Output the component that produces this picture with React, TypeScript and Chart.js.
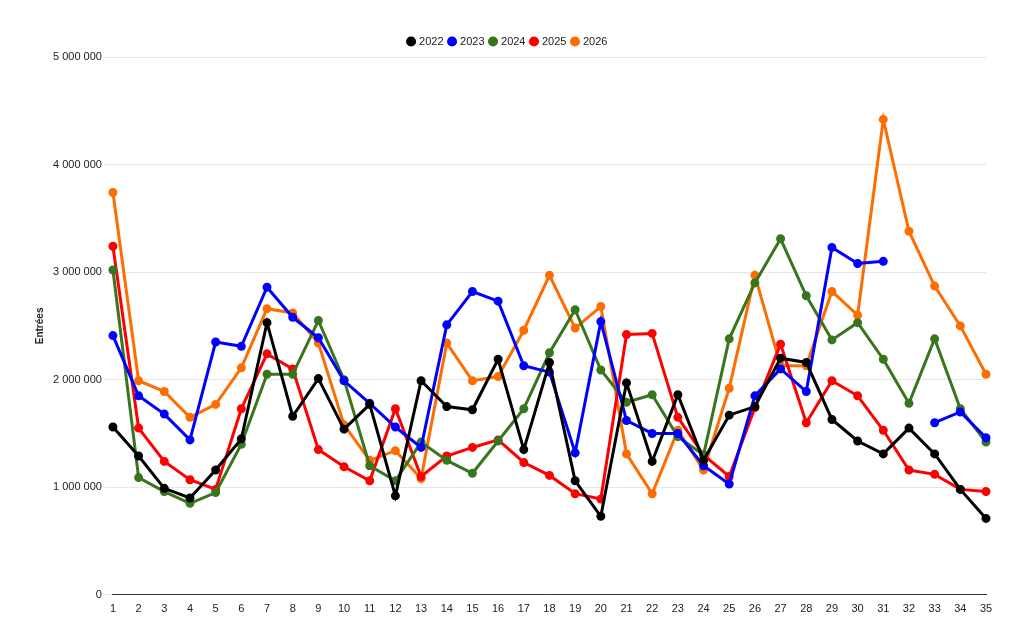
import React, { useEffect, useRef } from "react";
import { Chart, registerables } from "chart.js";
Chart.register(...registerables);

const categories = Array.from({ length: 35 }, (_, i) => String(i + 1));
const s2022 = [1.56,1.29,0.99,0.90,1.16,1.45,2.53,1.66,2.01,1.54,1.77,0.92,1.99,1.75,1.72,2.19,1.35,2.16,1.06,0.73,1.97,1.24,1.86,1.25,1.67,1.75,2.20,2.16,1.63,1.43,1.31,1.55,1.31,0.98,0.71];
const s2023 = [2.41,1.85,1.68,1.44,2.35,2.31,2.86,2.58,2.39,1.99,1.78,1.56,1.37,2.51,2.82,2.73,2.13,2.07,1.32,2.54,1.62,1.50,1.50,1.20,1.03,1.85,2.10,1.89,3.23,3.08,3.10,null,1.60,1.70,1.46];
const s2024 = [3.02,1.09,0.96,0.85,0.95,1.40,2.05,2.05,2.55,2.00,1.20,1.06,1.42,1.25,1.13,1.43,1.73,2.25,2.65,2.09,1.79,1.86,1.47,1.30,2.38,2.90,3.31,2.78,2.37,2.53,2.19,1.78,2.38,1.73,1.42];
const s2025 = [3.24,1.55,1.24,1.07,0.98,1.73,2.24,2.10,1.35,1.19,1.06,1.73,1.10,1.29,1.37,1.44,1.23,1.11,0.94,0.89,2.42,2.43,1.65,1.30,1.10,1.74,2.33,1.60,1.99,1.85,1.53,1.16,1.12,0.98,0.96];
const s2026 = [3.74,1.99,1.89,1.65,1.77,2.11,2.66,2.62,2.34,1.58,1.25,1.34,1.08,2.34,1.99,2.03,2.46,2.97,2.48,2.68,1.31,0.94,1.53,1.16,1.92,2.97,2.13,2.13,2.82,2.60,4.42,3.38,2.87,2.50,2.05];
const seriesNames = ["2022", "2023", "2024", "2025", "2026"];
const seriesColors = ["#000000", "#0000ff", "#38761d", "#ff0000", "#ff6d01"];

const toM = (a: (number | null)[]) => a.map((v) => (v == null ? null : v * 1e6));

export default function App() {
  const ref = useRef<HTMLCanvasElement>(null);
  useEffect(() => {
    Chart.defaults.font.family = "'Liberation Sans', Arial, sans-serif";
    const data = [s2022, s2023, s2024, s2025, s2026];
    const chart = new Chart(ref.current!, {
      type: "line",
      data: {
        labels: categories,
        datasets: data.map((d, i) => ({
          label: seriesNames[i],
          data: toM(d),
          borderColor: seriesColors[i],
          backgroundColor: seriesColors[i],
          borderWidth: 3,
          pointRadius: 3,
          pointHoverRadius: 3,
          tension: 0,
          spanGaps: false,
        })),
      },
      options: {
        animation: false,
        responsive: false,
        layout: { padding: { left: 30, right: 38, top: 30, bottom: 18 } },
        plugins: {
          legend: {
            position: "top",
            labels: {
              usePointStyle: true,
              pointStyle: "circle",
              boxWidth: 5,
              boxHeight: 5,
              padding: 6,
              color: "#222",
              font: { size: 11 },
            },
          },
          tooltip: { enabled: false },
        },
        scales: {
          x: {
            offset: false,
            grid: { display: false },
            border: { color: "#333" },
            ticks: { color: "#222", font: { size: 11 }, maxRotation: 0, autoSkip: false, padding: 0 },
          },
          y: {
            min: 0,
            max: 5000000,
            ticks: {
              stepSize: 1000000,
              color: "#222",
              font: { size: 11 },
              callback: (v: any) => Number(v).toLocaleString("fr-FR").replace(/\s/g, " "),
            },
            grid: { color: "#e6e6e6" },
            border: { display: false },
            title: { display: true, text: "Entrées", color: "#222", font: { size: 10, weight: "bold" } },
          },
        },
      },
    });
    return () => chart.destroy();
  }, []);
  return (
    <div style={{ position: "fixed", left: 0, top: 0, width: 1024, height: 634, background: "#fff" }}>
      <canvas ref={ref} width={1024} height={634} />
    </div>
  );
}
